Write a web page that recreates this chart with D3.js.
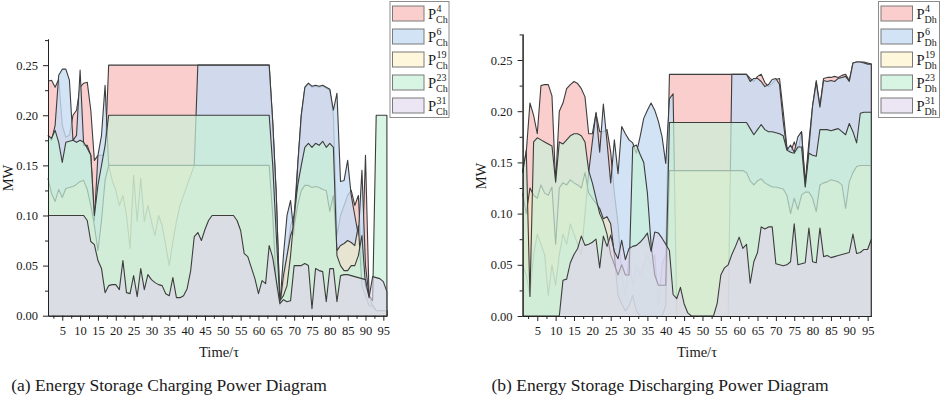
<!DOCTYPE html>
<html>
<head>
<meta charset="utf-8">
<script src="https://cdn.jsdelivr.net/npm/d3@7"></script>
<style>
  body { margin: 0; background: #fff; }
  svg text { font-family: "Liberation Serif", "Times New Roman", serif; fill: #1a1a1a; }
</style>
</head>
<body>
<svg id="chart" width="941" height="399"></svg>
<script>
// time steps 1..96
const steps = d3.range(1, 97);

// (a) charging power, MW
const chP4 = [0.234, 0.235, 0.228, 0.236, 0.19, 0.178, 0.18, 0.20, 0.205, 0.228, 0.232, 0.233, 0.205, 0.155, 0.16, 0.16, 0.16, 0.25,
  0.25, 0.25, 0.25, 0.25, 0.25, 0.25, 0.25, 0.25, 0.25, 0.25, 0.25, 0.25, 0.25, 0.25, 0.25, 0.25, 0.25, 0.25, 0.25, 0.25, 0.25, 0.25, 0.25, 0.25,
  0.25, 0.25, 0.25, 0.25, 0.25, 0.25, 0.25, 0.25, 0.25, 0.25, 0.25, 0.25, 0.25, 0.25, 0.25, 0.25, 0.25, 0.25, 0.25, 0.25, 0.25,
  0.193, 0.12, 0.01, 0.03, 0.06, 0.09, 0.10, 0.15, 0.20, 0.227, 0.231, 0.228, 0.229, 0.228, 0.229, 0.227, 0.225, 0.20, 0.08,
  0.10, 0.11, 0.12, 0.125, 0.11, 0.12, 0.05, 0.16, 0.02, 0.01, 0.005, 0.005, 0.005, 0.005];
const chP6 = [0.18, 0.175, 0.19, 0.24, 0.246, 0.246, 0.235, 0.175, 0.18, 0.245, 0.17, 0.17, 0.16, 0.095, 0.16, 0.18, 0.23, 0.15,
  0.135, 0.125, 0.11, 0.12, 0.10, 0.067, 0.14, 0.094, 0.137, 0.094, 0.11, 0.094, 0.08, 0.10, 0.09, 0.07, 0.05, 0.074, 0.094, 0.11, 0.12, 0.13, 0.14, 0.15,
  0.25, 0.25, 0.25, 0.25, 0.25, 0.25, 0.25, 0.25, 0.25, 0.25, 0.25, 0.25, 0.25, 0.25, 0.25, 0.25, 0.25, 0.25, 0.25, 0.25, 0.25,
  0.193, 0.12, 0.01, 0.06, 0.10, 0.115, 0.08, 0.15, 0.20, 0.228, 0.232, 0.229, 0.230, 0.229, 0.230, 0.228, 0.226, 0.205, 0.222,
  0.134, 0.135, 0.155, 0.12, 0.10, 0.08, 0.145, 0.05, 0.02, 0.01, 0.005, 0.005, 0.005, 0.005];
const chP19 = [0.137, 0.122, 0.114, 0.126, 0.118, 0.127, 0.128, 0.129, 0.131, 0.134, 0.135, 0.126, 0.110, 0.090, 0.065, 0.095, 0.135, 0.150,
  0.15, 0.15, 0.15, 0.15, 0.15, 0.15, 0.15, 0.15, 0.15, 0.15, 0.15, 0.15, 0.15, 0.15, 0.15, 0.15, 0.15, 0.15, 0.15, 0.15, 0.15, 0.15, 0.15, 0.15,
  0.15, 0.15, 0.15, 0.15, 0.15, 0.15, 0.15, 0.15, 0.15, 0.15, 0.15, 0.15, 0.15, 0.15, 0.15, 0.15, 0.15, 0.15, 0.15, 0.15, 0.15,
  0.10, 0.03, 0.01, 0.04, 0.06, 0.08, 0.09, 0.11, 0.125, 0.13, 0.130, 0.128, 0.129, 0.128, 0.126, 0.125, 0.104, 0.12, 0.065,
  0.07, 0.072, 0.075, 0.073, 0.070, 0.09, 0.03, 0.02, 0.01, 0.01, 0.005, 0.005, 0.005, 0.005];
const chP23 = [0.18, 0.177, 0.185, 0.173, 0.153, 0.173, 0.174, 0.175, 0.173, 0.175, 0.173, 0.167, 0.16, 0.10, 0.13, 0.15, 0.17, 0.20,
  0.20, 0.20, 0.20, 0.20, 0.20, 0.20, 0.20, 0.20, 0.20, 0.20, 0.20, 0.20, 0.20, 0.20, 0.20, 0.20, 0.20, 0.20, 0.20, 0.20, 0.20, 0.20, 0.20, 0.20,
  0.20, 0.20, 0.20, 0.20, 0.20, 0.20, 0.20, 0.20, 0.20, 0.20, 0.20, 0.20, 0.20, 0.20, 0.20, 0.20, 0.20, 0.20, 0.20, 0.20, 0.20,
  0.15, 0.08, 0.015, 0.02, 0.03, 0.06, 0.10, 0.13, 0.15, 0.168, 0.172, 0.168, 0.172, 0.170, 0.174, 0.168, 0.172, 0.168, 0.06,
  0.05, 0.045, 0.045, 0.05, 0.05, 0.06, 0.08, 0.03, 0.02, 0.015, 0.20, 0.20, 0.20, 0.20];
const chP31 = [0.10, 0.10, 0.10, 0.10, 0.10, 0.10, 0.10, 0.10, 0.10, 0.10, 0.10,
  0.095, 0.074, 0.071, 0.055, 0.047, 0.023, 0.030, 0.031, 0.031, 0.026, 0.055, 0.023, 0.022, 0.040, 0.019, 0.047, 0.026, 0.041, 0.036,
  0.033, 0.031, 0.030, 0.022, 0.020, 0.038, 0.018, 0.018, 0.020, 0.027, 0.045, 0.079, 0.083, 0.075, 0.086, 0.095,
  0.10, 0.10, 0.10, 0.10, 0.10, 0.10, 0.10,
  0.095, 0.085, 0.062, 0.059, 0.048, 0.037, 0.022, 0.035, 0.032, 0.070, 0.058, 0.035, 0.012, 0.016, 0.014, 0.015, 0.050, 0.050,
  0.050, 0.052, 0.050, 0.007, 0.047, 0.045, 0.044, 0.014, 0.047, 0.047, 0.014, 0.040, 0.041, 0.041, 0.040, 0.039, 0.038, 0.037,
  0.036, 0.018, 0.039, 0.038, 0.037, 0.034, 0.024];

// (b) discharging power, MW
const dhP4 = [0.14, 0.16, 0.208, 0.196, 0.178, 0.225, 0.226, 0.226, 0.215, 0.13, 0.2, 0.208, 0.222, 0.226, 0.229, 0.227, 0.222, 0.214,
  0.178, 0.178, 0.198, 0.18, 0.18, 0.182, 0.16, 0.12, 0.09, 0.04, 0.02, 0.06, 0.03, 0.05, 0.04, 0.05, 0.06, 0.05, 0.06, 0.01, 0.05, 0.06,
  0.236, 0.236, 0.236, 0.236, 0.236, 0.236, 0.236, 0.236, 0.236, 0.236, 0.236, 0.236, 0.236, 0.236, 0.236, 0.236, 0.236, 0.236,
  0.236, 0.236, 0.236, 0.236, 0.232, 0.229, 0.234, 0.236, 0.228, 0.224, 0.227, 0.231, 0.232, 0.20, 0.165, 0.16, 0.17, 0.16, 0.18, 0.13,
  0.17, 0.205, 0.23, 0.205, 0.232, 0.233, 0.233, 0.234, 0.233, 0.235, 0.236, 0.23, 0.247, 0.248, 0.248, 0.248, 0.247, 0.246];
const dhP6 = [0.05, 0.04, 0.02, 0.06, 0.08, 0.07, 0.06, 0.02, 0.05, 0.03, 0.06, 0.08, 0.07, 0.09, 0.08, 0.07, 0.06, 0.10,
  0.14, 0.17, 0.199, 0.16, 0.207, 0.17, 0.13, 0.172, 0.139, 0.185, 0.178, 0.172, 0.169, 0.159, 0.175, 0.193, 0.201, 0.208, 0.201, 0.19, 0.175, 0.149,
  0.212, 0.217, 0, 0, 0, 0, 0, 0, 0, 0, 0, 0, 0, 0, 0, 0, 0,
  0.236, 0.236, 0.236, 0.236, 0.236, 0.229, 0.232, 0.232, 0.229, 0.224, 0.226, 0.231, 0.232, 0.226, 0.19, 0.162, 0.167, 0.16, 0.175, 0.18,
  0.126, 0.164, 0.205, 0.228, 0.204, 0.23, 0.229, 0.230, 0.229, 0.232, 0.233, 0.234, 0.229, 0.247, 0.248, 0.248, 0.247, 0.246, 0.246];
const dhP19 = [0.12, 0.10, 0.125, 0.118, 0.115, 0.128, 0.12, 0.118, 0.126, 0.07, 0.125, 0.13, 0.128, 0.133, 0.13, 0.128, 0.125, 0.14,
  0.12, 0.115, 0.11, 0.105, 0.095, 0.097, 0.09, 0.06, 0.02, 0.012, 0.005, 0.01, 0.02, 0.005, 0, 0, 0, 0, 0, 0, 0, 0.01,
  0.142, 0.142, 0.142, 0.142, 0.142, 0.142, 0.142, 0.142, 0.142, 0.142, 0.142, 0.142, 0.142, 0.142, 0.142, 0.142, 0.142, 0.142, 0.142, 0.142, 0.142,
  0.14, 0.132, 0.128, 0.132, 0.134, 0.130, 0.128, 0.126, 0.126, 0.125, 0.124, 0.118, 0.100, 0.115, 0.104, 0.118, 0.121, 0.121, 0.115, 0.102,
  0.128, 0.130, 0.131, 0.133, 0.132, 0.131, 0.128, 0.105, 0.131, 0.140, 0.146, 0.147, 0.147, 0.147, 0.147];
const dhP23 = [0.14, 0.162, 0.019, 0.17, 0.174, 0.172, 0.170, 0.168, 0.166, 0.131, 0.17, 0.168, 0.172, 0.176, 0.178, 0.178, 0.176, 0.17,
  0.142, 0.13, 0.115, 0.100, 0.092, 0.080, 0.06, 0.05, 0.04, 0.05, 0.04, 0.04, 0.165, 0.167, 0.158, 0.15, 0.12, 0.07, 0.04, 0.03, 0.03, 0.03,
  0.189, 0.189, 0.189, 0.189, 0.189, 0.189, 0.189, 0.189, 0.189, 0.189, 0.189, 0.189, 0.189, 0.189, 0.189, 0.189, 0.189, 0.189, 0.189, 0.189, 0.189, 0.189,
  0.183, 0.177, 0.182, 0.187, 0.182, 0.180, 0.180, 0.179, 0.178, 0.176, 0.162, 0.16, 0.159, 0.165, 0.165, 0.126, 0.159, 0.157, 0.156, 0.182,
  0.182, 0.182, 0.181, 0.182, 0.183, 0.180, 0.177, 0.188, 0.180, 0.169, 0.198, 0.199, 0.199, 0.199];
const dhP31 = [0, 0, 0, 0, 0, 0, 0, 0, 0, 0, 0,
  0.035, 0.036, 0.052, 0.06, 0.066, 0.078, 0.069, 0.070, 0.072, 0.075, 0.047, 0.078, 0.068, 0.079, 0.063, 0.056, 0.074, 0.055, 0.066,
  0.068, 0.069, 0.072, 0.076, 0.081, 0.063, 0.082, 0.081, 0.076, 0.070, 0.064, 0.021, 0.017, 0.028, 0.012, 0.003,
  0, 0, 0, 0, 0, 0, 0,
  0.012, 0.040, 0.047, 0.050, 0.060, 0.068, 0.077, 0.066, 0.070, 0.032, 0.053, 0.062, 0.087, 0.085, 0.087, 0.087, 0.051, 0.050, 0.049, 0.050,
  0.053, 0.090, 0.050, 0.051, 0.052, 0.086, 0.053, 0.052, 0.086, 0.058, 0.059, 0.057, 0.058, 0.059, 0.060, 0.061, 0.062, 0.080, 0.061, 0.062,
  0.065, 0.065, 0.075];

const nodes = ['4', '6', '19', '23', '31'];
const xTicks = [5, 10, 15, 20, 25, 30, 35, 40, 45, 50, 55, 60, 65, 70, 75, 80, 85, 90, 95];
const yTicks = [0, 0.05, 0.10, 0.15, 0.20, 0.25];

// fill colour and opacity per node, in legend order
const fills = ['#f9b9b9', '#c7dcf4', '#fff0b8', '#c7f1d8', '#dfd4ed'];
const opac = [0.7, 0.8, 0.5, 0.7, 0.6];

const svg = d3.select('#chart');

function drawPanel(p) {
  const x = d3.scaleLinear().domain([1, 96]).range(p.xRange);
  const y = d3.scaleLinear().domain([0, p.yMax]).range(p.yRange);
  const g = svg.append('g');

  const area = d3.area().x(d => x(d[0])).y0(y(0)).y1(d => y(d[1]));
  const line = d3.line().x(d => x(d[0])).y(d => y(d[1]));

  // each area then its border, so later fills veil earlier borders
  p.series.forEach((vals, i) => {
    const pts = vals.map((v, j) => [steps[j], v]);
    g.append('path').datum(pts)
      .attr('d', area)
      .attr('fill', fills[i])
      .attr('fill-opacity', opac[i]);
    g.append('path').datum(pts.concat([[96, 0]]))
      .attr('d', line)
      .attr('fill', 'none')
      .attr('stroke', '#3d3d3d')
      .attr('stroke-width', 1.1)
      .attr('stroke-linejoin', 'round');
  });

  // axes
  const yAxis = d3.axisLeft(y).tickValues(yTicks).tickFormat(d3.format('.2f'))
    .tickSize(5).tickSizeOuter(0).tickPadding(5);
  const yMinor = d3.axisLeft(y).tickValues(yTicks.map(v => v + 0.025))
    .tickFormat('').tickSize(3).tickSizeOuter(0);
  const xAxis = d3.axisBottom(x).tickValues(xTicks).tickSize(5).tickSizeOuter(0).tickPadding(5);
  const xMinor = d3.axisBottom(x).tickValues(xTicks.map(v => v - 2.5))
    .tickFormat('').tickSize(3).tickSizeOuter(0);

  [yMinor, yAxis].forEach(ax => {
    g.append('g').attr('transform', `translate(${p.xRange[0]},0)`).call(ax);
  });
  [xMinor, xAxis].forEach(ax => {
    g.append('g').attr('transform', `translate(0,${p.yRange[0]})`).call(ax);
  });
  g.selectAll('.domain, .tick line').attr('stroke', '#222').attr('stroke-width', 1);
  g.selectAll('.tick text').attr('font-size', 12.5).attr('fill', '#1a1a1a')
    .attr('font-family', '"Liberation Serif", serif');

  // axis titles
  g.append('text')
    .attr('transform', `translate(${p.mwX},${p.mwY}) rotate(-90)`)
    .attr('text-anchor', 'middle').attr('font-size', 14.5).text('MW');
  g.append('text')
    .attr('x', p.timeX).attr('y', 357)
    .attr('text-anchor', 'middle').attr('font-size', 14.5).text('Time/τ');
  g.append('text')
    .attr('x', p.capX).attr('y', 391)
    .attr('text-anchor', 'middle').attr('font-size', 17.5).text(p.caption);

  // legend
  const lg = g.append('g');
  lg.append('rect')
    .attr('x', p.legX).attr('y', 1.5).attr('width', p.legW).attr('height', 116)
    .attr('fill', '#fff').attr('stroke', '#8c8c8c').attr('stroke-width', 1);
  nodes.forEach((n, i) => {
    const top = 6 + i * 23;
    lg.append('rect')
      .attr('x', p.legX + 2.5).attr('y', top).attr('width', 31.5).attr('height', 15)
      .attr('fill', fills[i]).attr('fill-opacity', opac[i])
      .attr('stroke', '#7a7a7a').attr('stroke-width', 1);
    const tx = p.legX + 38;
    lg.append('text').attr('x', tx).attr('y', top + 13).attr('font-size', 14.5).text('P');
    lg.append('text').attr('x', tx + 8.5).attr('y', top + 6).attr('font-size', 10).text(n);
    lg.append('text').attr('x', tx + 8).attr('y', top + 16.5).attr('font-size', 10).text(p.sub);
  });
}

drawPanel({
  series: [chP4, chP6, chP19, chP23, chP31],
  xRange: [48, 386.9], yRange: [315.7, 39], yMax: 0.2761,
  mwX: 12.5, mwY: 178, timeX: 219, capX: 169,
  caption: '(a) Energy Storage Charging Power Diagram',
  legX: 390, legW: 59, sub: 'Ch'
});
drawPanel({
  series: [dhP4, dhP6, dhP19, dhP23, dhP31],
  xRange: [522.6, 871.3], yRange: [316, 34], yMax: 0.2754,
  mwX: 486, mwY: 176, timeX: 697, capX: 660,
  caption: '(b) Energy Storage Discharging Power Diagram',
  legX: 878.5, legW: 61, sub: 'Dh'
});
</script>
</body>
</html>
